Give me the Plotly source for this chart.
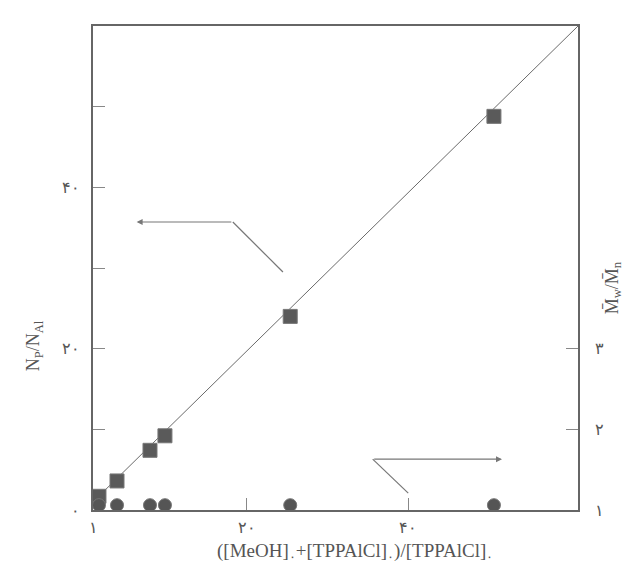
import plotly.graph_objects as go

# ---- data ----
ratio_x = [1.74, 3.97, 8.05, 9.9, 25.4, 50.6]          # ([MeOH]0+[TPPAlCl]0)/[TPPAlCl]0
np_nal = [1.7, 3.6, 7.4, 9.2, 24.0, 48.8]             # Np/NAl (left axis)
mw_mn = [1.06, 1.06, 1.06, 1.06, 1.06, 1.06]          # Mw/Mn (right axis)
fit_x = [1.0, 61.0]
fit_y = [1.0, 60.0]

x_tickvals = [1, 20, 40]
x_ticktext = ["۱", "۲۰", "۴۰"]
yl_tickvals = [0, 10, 20, 30, 40, 50, 60]
yl_ticktext = ["۰", "", "۲۰", "", "۴۰", "", ""]
yr_tickvals = [1, 2, 3]
yr_ticktext = ["۱", "۲", "۳"]

ink = "#555555"
font = "Liberation Serif"

fig = go.Figure()
fig.add_trace(go.Scatter(x=fit_x, y=fit_y, mode="lines",
                         line=dict(color="#6a6a6a", width=1), showlegend=False))
fig.add_trace(go.Scatter(x=ratio_x, y=np_nal, mode="markers",
                         marker=dict(symbol="square", size=14, color="#5a5a5a",
                                     line=dict(color="#777777", width=1)),
                         showlegend=False))
fig.add_trace(go.Scatter(x=ratio_x, y=mw_mn, mode="markers", yaxis="y2",
                         marker=dict(symbol="circle", size=13, color="#555555",
                                     line=dict(color="#777777", width=1)),
                         showlegend=False))

# arrow guide segments (diagonal parts)
fig.add_trace(go.Scatter(x=[24.5, 18.3], y=[29.5, 35.7], mode="lines",
                         line=dict(color="#777777", width=1.2), showlegend=False))
fig.add_trace(go.Scatter(x=[40.0, 35.6], y=[2.1, 6.3], mode="lines",
                         line=dict(color="#777777", width=1.2), showlegend=False))

axis_common = dict(showgrid=False, zeroline=False, ticks="inside", ticklen=12,
                   tickcolor="#888888", tickwidth=1, automargin=False,
                   tickfont=dict(family=font, size=16, color=ink))

fig.update_layout(
    width=630, height=567,
    margin=dict(l=85, r=60, t=18, b=65),
    paper_bgcolor="white", plot_bgcolor="white",
    xaxis=dict(range=[1, 61], tickvals=x_tickvals, ticktext=x_ticktext,
               showline=True, mirror=True, linecolor="#666666", linewidth=2,
               ticklabelstandoff=2, **axis_common),
    yaxis=dict(range=[0, 60], tickvals=yl_tickvals, ticktext=yl_ticktext,
               showline=True, mirror=True, linecolor="#666666", linewidth=2,
               ticklabelstandoff=8, **axis_common),
    yaxis2=dict(range=[1, 7], overlaying="y", side="right",
                tickvals=yr_tickvals, ticktext=yr_ticktext, showline=False,
                ticklabelstandoff=16, **axis_common),
    annotations=[
        dict(x=6.4, y=35.7, ax=18.3, ay=35.7, xref="x", yref="y", axref="x", ayref="y",
             showarrow=True, arrowhead=2, arrowsize=1, arrowwidth=1.2,
             arrowcolor="#777777", text=""),
        dict(x=51.6, y=6.3, ax=35.6, ay=6.3, xref="x", yref="y", axref="x", ayref="y",
             showarrow=True, arrowhead=2, arrowsize=1, arrowwidth=1.2,
             arrowcolor="#777777", text=""),
        dict(text="N<sub>P</sub>/N<sub>Al</sub>", xref="paper", yref="paper",
             x=-0.12, y=0.34, xanchor="center", textangle=-90, showarrow=False,
             font=dict(family=font, size=18, color=ink)),
        dict(text="M̄<sub>w</sub>/M̄<sub>n</sub>", xref="paper", yref="paper",
             x=1.072, y=0.46, xanchor="center", yanchor="middle", textangle=-90,
             showarrow=False, font=dict(family=font, size=18, color=ink)),
        dict(text="([MeOH]<sub>۰</sub>+[TPPAlCl]<sub>۰</sub>)/[TPPAlCl]<sub>۰</sub>",
             xref="paper", yref="paper", x=0.54, y=-0.087, yanchor="middle",
             showarrow=False, font=dict(family=font, size=19, color=ink)),
    ],
)

fig.write_html("out.html")
